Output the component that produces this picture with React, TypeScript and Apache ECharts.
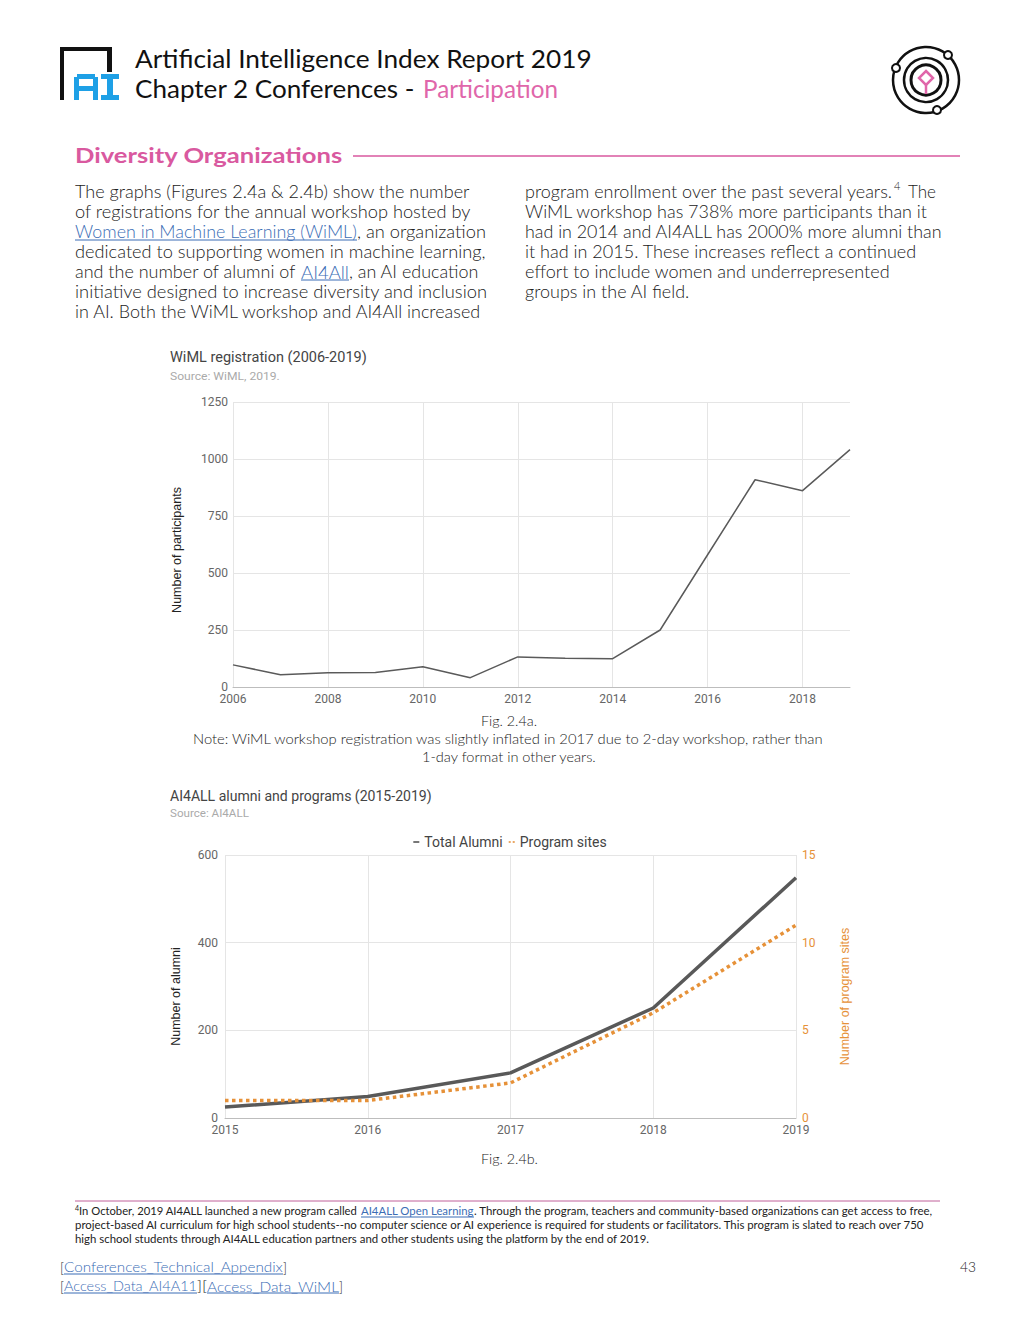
import React, { useEffect, useRef } from 'react';
import * as echarts from 'echarts';

// ---------- data ----------
const wimlYears = ['2006', '2007', '2008', '2009', '2010', '2011', '2012', '2013', '2014', '2015', '2016', '2017', '2018', '2019'];
const wimlParticipants = [97, 54, 63, 64, 89, 41, 132, 126, 124, 250, 580, 909, 861, 1041];
const wimlAxis = { min: 0, max: 1250, interval: 250 };

const ai4allYears = ['2015', '2016', '2017', '2018', '2019'];
const ai4allAlumni = [25, 49, 103, 251, 548];
const ai4allProgramSites = [1, 1, 2, 6, 11];
const alumniAxis = { min: 0, max: 600, interval: 200 };
const sitesAxis = { min: 0, max: 15, interval: 5 };

const PINK = '#d9599f';
const LINK = '#3b6db5';
const ORANGE = '#e69138';
const PROSE = '300 17px Lato';

function buildGraphics() {
  const canvas = document.createElement('canvas');
  const ctx = canvas.getContext('2d') as CanvasRenderingContext2D;
  const els: any[] = [];
  const txt = (text: string, x: number, y: number, w: number, font: string, fill: string, underline = false, uOff = 8) => {
    ctx.font = font;
    const m = ctx.measureText(text).width || 1;
    const s = w ? w / m : 1;
    els.push({ type: 'text', x, y, scaleX: s, silent: true, style: { text, font, fill, textAlign: 'left', textVerticalAlign: 'middle' } });
    if (underline) {
      els.push({ type: 'line', silent: true, shape: { x1: x, y1: y + uOff, x2: x + (w || m), y2: y + uOff }, style: { stroke: fill, lineWidth: 1 } });
    }
  };
  const rect = (x: number, y: number, w: number, h: number, fill: string) =>
    els.push({ type: 'rect', silent: true, shape: { x, y, width: w, height: h }, style: { fill } });

  // left logo
  const BLUE = '#1ea0e6';
  rect(60, 47, 4, 53, '#111');
  rect(60, 47, 52, 4, '#111');
  rect(107, 47, 5, 25, '#111');
  rect(77, 74, 18, 5, BLUE);
  rect(74, 77, 5, 23, BLUE);
  rect(93, 77, 5, 23, BLUE);
  rect(74, 86, 24, 5, BLUE);
  rect(101, 74, 18, 5, BLUE);
  rect(107, 74, 6, 26, BLUE);
  rect(101, 95, 18, 5, BLUE);

  // right logo
  const cx = 926, cy = 80;
  els.push({ type: 'circle', silent: true, shape: { cx, cy, r: 33 }, style: { fill: 'none', stroke: '#111', lineWidth: 2.5 } });
  els.push({ type: 'circle', silent: true, shape: { cx, cy, r: 22 }, style: { fill: 'none', stroke: '#111', lineWidth: 2.5 } });
  els.push({ type: 'circle', silent: true, shape: { cx, cy, r: 15 }, style: { fill: 'none', stroke: '#111', lineWidth: 3 } });
  [[948, 55], [896, 68], [937, 110]].forEach(([x, y]) =>
    els.push({ type: 'circle', silent: true, shape: { cx: x, cy: y, r: 4 }, style: { fill: '#fff', stroke: '#111', lineWidth: 2 } }));
  els.push({ type: 'polygon', silent: true, shape: { points: [[926, 71], [933, 78], [926, 85], [919, 78]] }, style: { fill: 'none', stroke: '#e066aa', lineWidth: 2.5 } });
  els.push({ type: 'line', silent: true, shape: { x1: 926, y1: 85, x2: 926, y2: 94 }, style: { stroke: '#e066aa', lineWidth: 2.5 } });

  // header
  txt('Artificial Intelligence Index Report 2019', 135, 58, 457, '25px Lato', '#111');
  txt('Chapter 2 Conferences -', 135, 88, 280, '25px Lato', '#111');
  txt('Participation', 423, 88, 135, '25px Lato', '#e066aa');

  // section heading
  txt('Diversity Organizations', 75, 155, 268, 'bold 21px Lato', PINK);
  els.push({ type: 'line', silent: true, shape: { x1: 353, y1: 156, x2: 960, y2: 156 }, style: { stroke: PINK, lineWidth: 1.5 } });

  // left column
  const C = '#222';
  const L = [192, 212, 232, 252, 272, 292, 312];
  txt('The graphs (Figures 2.4a & 2.4b) show the number', 75, L[0], 395, PROSE, C);
  txt('of registrations for the annual workshop hosted by', 75, L[1], 397, PROSE, C);
  txt('Women in Machine Learning (WiML)', 75, L[2], 282, PROSE, LINK, true);
  txt(', an organization', 357, L[2], 129, PROSE, C);
  txt('dedicated to supporting women in machine learning,', 75, L[3], 411, PROSE, C);
  txt('and the number of alumni of ', 75, L[4], 226, PROSE, C);
  txt('AI4All', 301, L[4], 48, PROSE, LINK, true);
  txt(', an AI education', 349, L[4], 130, PROSE, C);
  txt('initiative designed to increase diversity and inclusion', 75, L[5], 413, PROSE, C);
  txt('in AI. Both the WiML workshop and AI4All increased', 75, L[6], 408, PROSE, C);

  // right column
  txt('program enrollment over the past several years.', 525, L[0], 368, PROSE, C);
  txt('4', 894, L[0] - 7, 0, '300 11px Lato', C);
  txt('The', 908, L[0], 28, PROSE, C);
  txt('WiML workshop has 738% more participants than it', 525, L[1], 403, PROSE, C);
  txt('had in 2014 and AI4ALL has 2000% more alumni than', 525, L[2], 418, PROSE, C);
  txt('it had in 2015. These increases reflect a continued', 525, L[3], 392, PROSE, C);
  txt('effort to include women and underrepresented', 525, L[4], 365, PROSE, C);
  txt('groups in the AI field.', 525, L[5], 165, PROSE, C);

  // chart titles
  txt('WiML registration (2006-2019)', 170, 357, 197, '14px Roboto', '#444');
  txt('Source: WiML, 2019.', 170, 376, 110, '11px Roboto', '#aaa');
  txt('AI4ALL alumni and programs (2015-2019)', 170, 796, 262, '14px Roboto', '#444');
  txt('Source: AI4ALL', 170, 814, 79, '11px Roboto', '#aaa');

  // captions
  const CAP = '300 14px Lato';
  txt('Fig. 2.4a.', 481, 721, 56, CAP, C);
  txt('Note: WiML workshop registration was slightly inflated in 2017 due to 2-day workshop, rather than', 193, 739, 633, CAP, C);
  txt('1-day format in other years.', 422, 757, 175, CAP, C);
  txt('Fig. 2.4b.', 481, 1159, 57, CAP, C);

  // footnote
  els.push({ type: 'line', silent: true, shape: { x1: 75, y1: 1201, x2: 940, y2: 1201 }, style: { stroke: '#c0609a', lineWidth: 1 } });
  const FN = '11px Lato';
  txt('4', 75, 1208, 0, '7px Lato', C);
  txt('In October, 2019 AI4ALL launched a new program called ', 79, 1211, 282, FN, C);
  txt('AI4ALL Open Learning', 361, 1211, 113, FN, LINK, true, 6);
  txt('. Through the program, teachers and community-based organizations can get access to free,', 474, 1211, 459, FN, C);
  txt('project-based AI curriculum for high school students--no computer science or AI experience is required for students or facilitators. This program is slated to reach over 750', 75, 1225, 852, FN, C);
  txt('high school students through AI4ALL education partners and other students using the platform by the end of 2019.', 75, 1239, 576, FN, C);

  // bottom links
  const BL = '300 14px Lato';
  txt('[', 60, 1267, 4, BL, C);
  txt('Conferences_Technical_Appendix', 64, 1267, 219, BL, LINK, true, 7);
  txt(']', 283, 1267, 4, BL, C);
  txt('[', 60, 1286, 4, BL, C);
  txt('Access_Data_AI4A11', 64, 1286, 133, BL, LINK, true, 7);
  txt('][', 197, 1286, 10, BL, C);
  txt('Access_Data_WiML', 207, 1286, 132, BL, LINK, true, 7);
  txt(']', 339, 1286, 4, BL, C);
  txt('43', 960, 1266, 16, '300 14px Lato', C);

  return els;
}

export default function App() {
  const ref = useRef<HTMLDivElement>(null);
  useEffect(() => {
    if (!ref.current) return;
    const chart = echarts.init(ref.current, undefined, { renderer: 'svg' });
    const grid = '#e5e5e5';
    const axisLbl = { color: '#666', fontSize: 12, fontFamily: 'Roboto', formatter: (v: any) => String(v) };
    const nameStyle = { color: '#222', fontSize: 12.5, fontFamily: 'Liberation Sans' };
    const option: any = {
      animation: false,
      backgroundColor: '#fff',
      textStyle: { fontFamily: 'Roboto' },
      grid: [
        { left: 233, top: 402, width: 617, height: 285 },
        { left: 225, top: 855, width: 571, height: 263 },
      ],
      legend: {
        top: 830,
        left: 'center',
        itemWidth: 6,
        itemHeight: 2,
        itemGap: 6,
        textStyle: { color: '#444', fontSize: 14, fontFamily: 'Roboto' },
        data: [
          { name: 'Total Alumni', icon: 'rect', itemStyle: { color: '#777' } },
          { name: 'Program sites', icon: 'path://M0,0h2v2h-2zM4,0h2v2h-2z', itemStyle: { color: '#eaa866' } },
        ],
      },
      xAxis: [
        {
          type: 'category', gridIndex: 0, data: wimlYears, boundaryGap: false,
          axisTick: { show: false },
          axisLine: { lineStyle: { color: '#bdbdbd' } },
          axisLabel: { ...axisLbl, margin: 6, interval: (i: number) => i % 2 === 0 },
          splitLine: { show: true, interval: (i: number) => i % 2 === 0, lineStyle: { color: grid } },
        },
        {
          type: 'category', gridIndex: 1, data: ai4allYears, boundaryGap: false,
          axisTick: { show: false },
          axisLine: { lineStyle: { color: '#bdbdbd' } },
          axisLabel: { ...axisLbl, margin: 6 },
          splitLine: { show: true, lineStyle: { color: grid } },
        },
      ],
      yAxis: [
        {
          type: 'value', gridIndex: 0, ...wimlAxis,
          axisLine: { show: false }, axisTick: { show: false },
          axisLabel: { ...axisLbl, margin: 5 },
          splitLine: { lineStyle: { color: grid } },
          name: 'Number of participants', nameLocation: 'middle', nameRotate: 90, nameGap: 50,
          nameTextStyle: { ...nameStyle, padding: [0, 11, 0, 0] },
        },
        {
          type: 'value', gridIndex: 1, ...alumniAxis,
          axisLine: { show: false }, axisTick: { show: false },
          axisLabel: { ...axisLbl, margin: 7 },
          splitLine: { lineStyle: { color: grid } },
          name: 'Number of alumni', nameLocation: 'middle', nameRotate: 90, nameGap: 43,
          nameTextStyle: { ...nameStyle, padding: [0, 20, 0, 0] },
        },
        {
          type: 'value', gridIndex: 1, position: 'right', ...sitesAxis,
          axisLine: { show: false }, axisTick: { show: false },
          axisLabel: { ...axisLbl, color: ORANGE, margin: 6 },
          splitLine: { show: false },
          name: 'Number of program sites', nameLocation: 'middle', nameRotate: 90, nameGap: 42,
          nameTextStyle: { ...nameStyle, color: ORANGE, padding: [0, 20, 0, 0] },
        },
      ],
      series: [
        {
          name: 'WiML registration', type: 'line', xAxisIndex: 0, yAxisIndex: 0, data: wimlParticipants,
          showSymbol: false, lineStyle: { color: '#5a5a5a', width: 1.5 }, itemStyle: { color: '#5a5a5a' },
        },
        {
          name: 'Total Alumni', type: 'line', xAxisIndex: 1, yAxisIndex: 1, data: ai4allAlumni,
          showSymbol: false, lineStyle: { color: '#595959', width: 3.5 }, itemStyle: { color: '#595959' },
        },
        {
          name: 'Program sites', type: 'line', xAxisIndex: 1, yAxisIndex: 2, data: ai4allProgramSites,
          showSymbol: false, lineStyle: { color: ORANGE, width: 3.5, type: 'dotted' }, itemStyle: { color: ORANGE },
        },
      ],
      graphic: { elements: buildGraphics() },
    };
    chart.setOption(option);
    return () => chart.dispose();
  }, []);
  return (
    <div
      ref={ref}
      style={{ position: 'absolute', left: 0, top: 0, width: 1020, height: 1320, background: '#fff' }}
    />
  );
}
